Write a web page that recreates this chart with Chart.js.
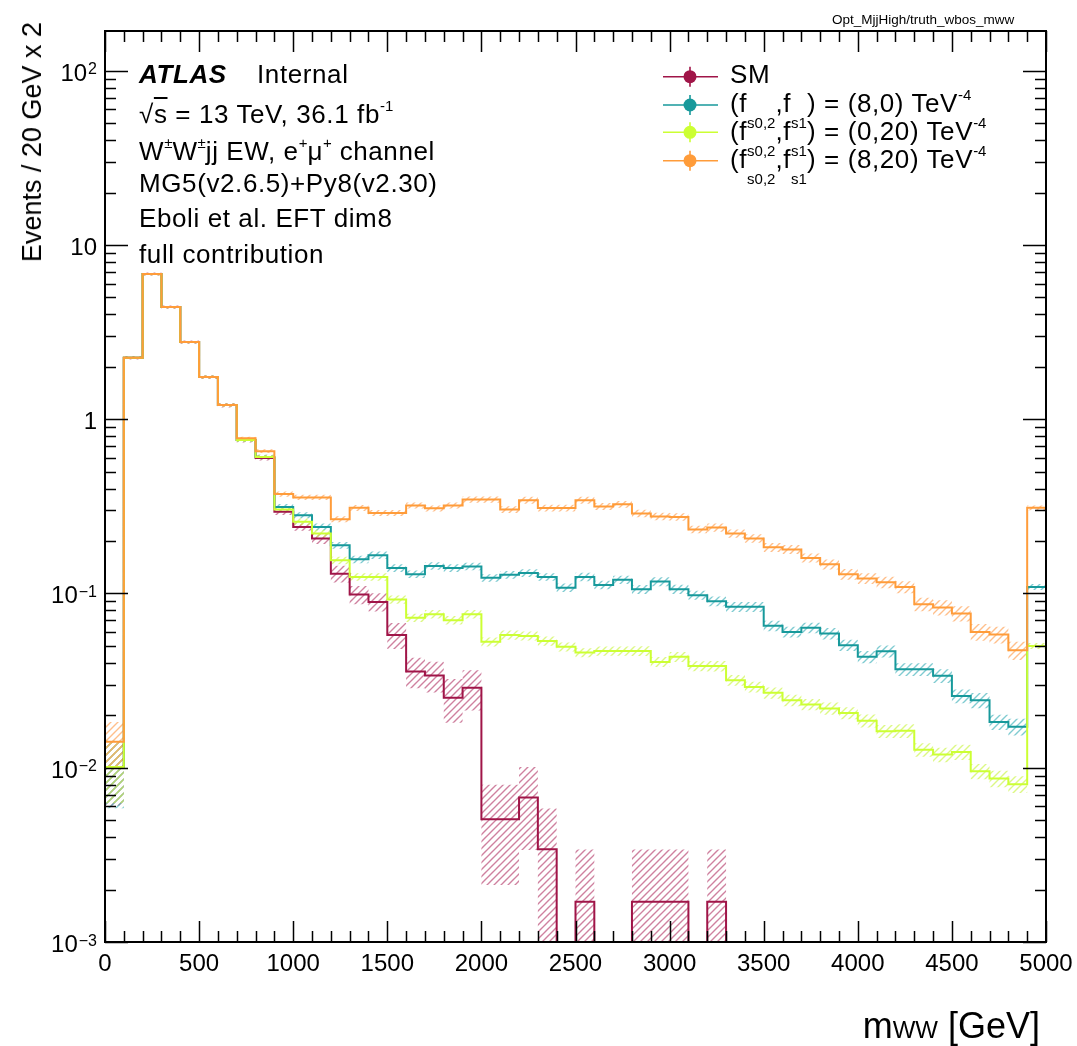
<!DOCTYPE html>
<html>
<head>
<meta charset="utf-8">
<script src="https://cdn.jsdelivr.net/npm/chart.js@4.4.0/dist/chart.umd.min.js"></script>
<style>
  html, body { margin: 0; padding: 0; background: #fff; }
  #wrap { position: relative; width: 1077px; height: 1046px; font-family: "Liberation Sans", Arial, Helvetica, sans-serif; color: #000; }
  #wrap canvas { position: absolute; left: 0; top: 0; }
  .t { position: absolute; white-space: nowrap; line-height: 1; }
  .lab { font-size: 26px; letter-spacing: 0.6px; }
  .sp { font-size: 15px; position: relative; top: -12px; letter-spacing: 0; }
  .sb { font-size: 15px; position: relative; top: 16px; letter-spacing: 0; }
  .ytitle { font-size: 27px; left: 19px; top: 22px; writing-mode: vertical-rl; transform: rotate(180deg); }
  .xtitle { font-size: 36px; right: 37px; top: 1008px; }
  .xtitle .ww { font-size: 24px; }
  #legmarks { position: absolute; left: 0; top: 0; }
</style>
</head>
<body>
<div id="wrap">
  <canvas id="c" width="1077" height="1046"></canvas>
  <div class="t" style="font-size:13.5px; left:832px; top:13px;">Opt_MjjHigh/truth_wbos_mww</div>
  <div class="t ytitle">Events / 20 GeV x 2</div>
  <div class="t xtitle">m<span class="ww">WW</span> [GeV]</div>

  <div class="t lab" style="left:139px; top:61px; font-weight:bold; font-style:italic;">ATLAS</div>
  <div class="t lab" style="left:257px; top:61px;">Internal</div>
  <div class="t lab" style="left:139px; top:101px;">√<span style="text-decoration:overline;">s</span> = 13 TeV, 36.1 fb<span class="sp">-1</span></div>
  <div class="t lab" style="left:139px; top:138px;">W<span class="sp">±</span>W<span class="sp">±</span>jj EW, e<span class="sp">+</span>μ<span class="sp">+</span> channel</div>
  <div class="t lab" style="left:139px; top:170px;">MG5(v2.6.5)+Py8(v2.30)</div>
  <div class="t lab" style="left:139px; top:205px;">Eboli et al. EFT dim8</div>
  <div class="t lab" style="left:139px; top:241px;">full contribution</div>

  <div class="t lab" style="left:730px; top:61px;">SM</div>
  <div class="t lab" style="left:730px; top:90px;">(f<span class="sb">s0,2</span>,f<span class="sb">s1</span>) = (8,0) TeV<span class="sp">-4</span></div>
  <div class="t lab" style="left:730px; top:118px;">(f<span class="sb">s0,2</span>,f<span class="sb">s1</span>) = (0,20) TeV<span class="sp">-4</span></div>
  <div class="t lab" style="left:730px; top:146px;">(f<span class="sb">s0,2</span>,f<span class="sb">s1</span>) = (8,20) TeV<span class="sp">-4</span></div>
  <svg id="legmarks" width="1077" height="200"></svg>
</div>
<script>
// m_WW histograms, 100 GeV bins from 0 to 5000 (last bin holds overflow)
const binLow = Array.from({ length: 50 }, (_, i) => i * 100);
const xMin = 0, xMax = 5000;
const yMin = 1e-3, yMax = 169;

const smVals = [
  0.0101, 2.25, 6.81, 4.40, 2.77, 1.745, 1.205, 0.759, 0.600, 0.294,
  0.241, 0.207, 0.130, 0.0987, 0.0895, 0.0578, 0.0357, 0.0338, 0.0252, 0.0288,
  0.00506, 0.00506, 0.00674, 0.00341, 0, 0.0017, 0, 0, 0.0017, 0.0017,
  0.0017, 0, 0.0017, 0, 0, 0, 0, 0, 0, 0,
  0, 0, 0, 0, 0, 0, 0, 0, 0, 0
];
const fs8_0Vals = [
  0.0101, 2.25, 6.81, 4.40, 2.77, 1.745, 1.205, 0.759, 0.608, 0.314,
  0.2815, 0.241, 0.189, 0.157, 0.166, 0.140, 0.129, 0.144, 0.140, 0.143,
  0.123, 0.128, 0.131, 0.1245, 0.108, 0.1245, 0.112, 0.120, 0.1056, 0.117,
  0.1058, 0.0978, 0.0903, 0.0838, 0.0838, 0.0652, 0.0602, 0.0635, 0.0589, 0.0505,
  0.0433, 0.0466, 0.0367, 0.0367, 0.0337, 0.0258, 0.0244, 0.0183, 0.0172, 0.109
];
const fs0_20Vals = [
  0.0101, 2.25, 6.81, 4.40, 2.77, 1.745, 1.205, 0.759, 0.608, 0.303,
  0.258, 0.221, 0.155, 0.1245, 0.1245, 0.0924, 0.0726, 0.0761, 0.0703, 0.0761,
  0.0528, 0.0578, 0.0571, 0.0534, 0.0494, 0.0458, 0.0468, 0.0468, 0.0468, 0.0405,
  0.0433, 0.0383, 0.0383, 0.0318, 0.0291, 0.0269, 0.0244, 0.0231, 0.0219, 0.0206,
  0.0186, 0.0162, 0.0163, 0.0127, 0.0119, 0.0123, 0.00955, 0.00867, 0.00804, 0.0500
];
const fs8_20Vals = [
  0.0141, 2.25, 6.81, 4.40, 2.77, 1.745, 1.205, 0.779, 0.656, 0.372,
  0.356, 0.356, 0.267, 0.310, 0.290, 0.290, 0.320, 0.308, 0.320, 0.346,
  0.346, 0.303, 0.343, 0.309, 0.309, 0.343, 0.316, 0.325, 0.288, 0.277,
  0.275, 0.233, 0.239, 0.221, 0.207, 0.184, 0.179, 0.160, 0.147, 0.129,
  0.122, 0.116, 0.109, 0.0868, 0.0831, 0.0768, 0.0602, 0.0581, 0.0472, 0.310
];

// relative stat. uncertainty per bin (hatched bands)
const smErr = [
  0.40, 0.02, 0.02, 0.02, 0.02, 0.025, 0.03, 0.03, 0.035, 0.04,
  0.05, 0.07, 0.11, 0.12, 0.12, 0.17, 0.20, 0.20, 0.28, 0.26,
  0.58, 0.58, 0.50, 0.71, 0, 1.0, 0, 0, 1.0, 1.0,
  1.0, 0, 1.0, 0, 0, 0, 0, 0, 0, 0,
  0, 0, 0, 0, 0, 0, 0, 0, 0, 0
];
const fs8_0Err = [
  0.42, 0.015, 0.015, 0.015, 0.015, 0.02, 0.02, 0.025, 0.03, 0.04,
  0.04, 0.045, 0.045, 0.05, 0.05, 0.05, 0.05, 0.05, 0.05, 0.05,
  0.05, 0.05, 0.05, 0.05, 0.055, 0.055, 0.055, 0.055, 0.06, 0.06,
  0.06, 0.06, 0.065, 0.065, 0.065, 0.07, 0.07, 0.07, 0.075, 0.075,
  0.08, 0.08, 0.085, 0.085, 0.09, 0.09, 0.10, 0.10, 0.11, 0.04
];
const fs0_20Err = [
  0.38, 0.015, 0.015, 0.015, 0.015, 0.02, 0.02, 0.025, 0.03, 0.04,
  0.045, 0.05, 0.05, 0.05, 0.05, 0.055, 0.055, 0.055, 0.055, 0.055,
  0.06, 0.06, 0.06, 0.06, 0.06, 0.06, 0.06, 0.06, 0.065, 0.065,
  0.065, 0.065, 0.07, 0.07, 0.07, 0.075, 0.075, 0.075, 0.08, 0.08,
  0.085, 0.085, 0.09, 0.09, 0.095, 0.10, 0.10, 0.11, 0.11, 0.04
];
const fs8_20Err = [
  0.30, 0.015, 0.015, 0.015, 0.015, 0.02, 0.02, 0.02, 0.025, 0.035,
  0.035, 0.035, 0.04, 0.04, 0.04, 0.04, 0.04, 0.04, 0.04, 0.04,
  0.04, 0.045, 0.045, 0.045, 0.045, 0.045, 0.045, 0.045, 0.05, 0.05,
  0.05, 0.05, 0.055, 0.055, 0.055, 0.06, 0.06, 0.06, 0.065, 0.07,
  0.07, 0.075, 0.08, 0.09, 0.10, 0.10, 0.11, 0.11, 0.12, 0.03
];

const seriesNames = ['SM', '(8,0)', '(0,20)', '(8,20)'];
const seriesVals = [smVals, fs8_0Vals, fs0_20Vals, fs8_20Vals];
const seriesErr = [smErr, fs8_0Err, fs0_20Err, fs8_20Err];
const lineColors = ['#a01548', '#17999b', '#ccff33', '#ff9c3a'];
const hatchColors = ['rgba(175,45,95,0.6)', 'rgba(60,175,185,0.65)', 'rgba(205,245,80,0.7)', 'rgba(255,170,100,0.75)'];

const yTickValues = [1e-3, 1e-2, 1e-1, 1, 10, 100];
const yTickBase = ['10', '10', '10', '1', '10', '10'];
const yTickExp = ['\u22123', '\u22122', '\u22121', '', '', '2'];

const FONT = '"Liberation Sans", Arial, Helvetica, sans-serif';
const FLOOR = 1e-6;  // empty bins sit below the visible log range

function hatch(color) {
  const c = document.createElement('canvas');
  c.width = 7; c.height = 7;
  const g = c.getContext('2d');
  g.strokeStyle = color;
  g.lineWidth = 1.4;
  g.beginPath();
  g.moveTo(-1, 8); g.lineTo(8, -1);
  g.moveTo(-1, 1); g.lineTo(1, -1);
  g.moveTo(6, 8); g.lineTo(8, 6);
  g.stroke();
  return g.createPattern(c, 'repeat');
}

function stepPoints(vals) {
  const pts = binLow.map((x, i) => ({ x, y: vals[i] > 0 ? vals[i] : FLOOR }));
  pts.push({ x: xMax, y: pts[pts.length - 1].y });
  return pts;
}

const datasets = [];
// central lines: orange drawn on top, SM at the bottom
seriesVals.forEach((vals, s) => {
  datasets.push({
    label: seriesNames[s],
    data: stepPoints(vals),
    borderColor: lineColors[s],
    borderWidth: 2,
    pointRadius: 0,
    stepped: 'before',
    fill: false,
    order: 3 - s
  });
});
// error bands: lower edge then upper edge filled down to it
seriesVals.forEach((vals, s) => {
  const err = seriesErr[s];
  const lo = vals.map((v, i) => v * (1 - err[i]));
  const hi = vals.map((v, i) => v * (1 + err[i]));
  datasets.push({
    data: stepPoints(lo), borderWidth: 0, pointRadius: 0, stepped: 'before',
    fill: false, order: 20 - s
  });
  datasets.push({
    data: stepPoints(hi), borderWidth: 0, pointRadius: 0, stepped: 'before',
    fill: '-1', backgroundColor: hatch(hatchColors[s]), order: 20 - s
  });
});

const frameTicks = {
  id: 'frameTicks',
  afterDatasetsDraw(chart) {
    const { ctx, chartArea: a, scales: { x, y } } = chart;
    ctx.save();
    ctx.strokeStyle = '#000';
    ctx.lineWidth = 1.5;
    ctx.beginPath();
    for (let v = xMin; v <= xMax; v += 100) {
      const px = Math.round(x.getPixelForValue(v)) + 0.5;
      const len = v % 500 === 0 ? 21 : 11;
      ctx.moveTo(px, a.bottom); ctx.lineTo(px, a.bottom - len);
      ctx.moveTo(px, a.top); ctx.lineTo(px, a.top + len);
    }
    for (let d = -3; d <= 2; d++) {
      for (let m = 1; m <= 9; m++) {
        const v = m * Math.pow(10, d);
        if (v > yMax) continue;
        const py = Math.round(y.getPixelForValue(v)) + 0.5;
        const len = m === 1 ? 23 : 11;
        ctx.moveTo(a.left, py); ctx.lineTo(a.left + len, py);
        ctx.moveTo(a.right, py); ctx.lineTo(a.right - len, py);
      }
    }
    ctx.stroke();
    ctx.lineWidth = 2;
    ctx.strokeRect(a.left, a.top, a.right - a.left, a.bottom - a.top);
    ctx.restore();
  }
};

const yLabels = {
  id: 'yLabels',
  afterDraw(chart) {
    const { ctx, scales: { y } } = chart;
    ctx.save();
    ctx.fillStyle = '#000';
    ctx.textBaseline = 'alphabetic';
    ctx.textAlign = 'left';
    yTickValues.forEach((v, i) => {
      const py = y.getPixelForValue(v);
      ctx.font = '24px ' + FONT;
      const wb = ctx.measureText(yTickBase[i]).width;
      ctx.font = '16px ' + FONT;
      const we = yTickExp[i] ? ctx.measureText(yTickExp[i]).width + 1 : 0;
      const x0 = 97 - we - wb;
      ctx.font = '24px ' + FONT;
      ctx.fillText(yTickBase[i], x0, py + 10);
      if (yTickExp[i]) {
        ctx.font = '16px ' + FONT;
        ctx.fillText(yTickExp[i], x0 + wb + 1, py + 3.5);
      }
    });
    ctx.restore();
  }
};

new Chart(document.getElementById('c'), {
  type: 'line',
  data: { datasets },
  options: {
    responsive: false,
    animation: false,
    layout: { padding: { left: 0, top: 31, right: 31, bottom: 0 } },
    plugins: { legend: { display: false }, tooltip: { enabled: false } },
    scales: {
      x: {
        type: 'linear', min: xMin, max: xMax,
        grid: { display: false, drawTicks: false },
        border: { display: false },
        ticks: {
          stepSize: 500, autoSkip: false, maxRotation: 0, padding: 8,
          color: '#000', font: { size: 24, family: FONT },
          callback: v => String(v)
        },
        afterFit: s => { s.height = 104; s.paddingRight = 0; s.paddingLeft = 0; }
      },
      y: {
        type: 'logarithmic', min: yMin, max: yMax,
        grid: { display: false, drawTicks: false },
        border: { display: false },
        ticks: { display: false },
        afterFit: s => { s.width = 105; }
      }
    }
  },
  plugins: [frameTicks, yLabels]
});

// legend markers (line + point + error bar), one per series
const legY = [76.7, 105, 132.3, 160.7];
const svg = document.getElementById('legmarks');
legY.forEach((ly, s) => {
  const c = lineColors[s];
  svg.insertAdjacentHTML('beforeend',
    `<line x1="663" y1="${ly}" x2="718" y2="${ly}" stroke="${c}" stroke-width="1.6"/>` +
    `<line x1="690" y1="${ly - 10}" x2="690" y2="${ly + 10}" stroke="${c}" stroke-width="1.6"/>` +
    `<circle cx="690" cy="${ly}" r="6.5" fill="${c}"/>`);
});
</script>
</body>
</html>
